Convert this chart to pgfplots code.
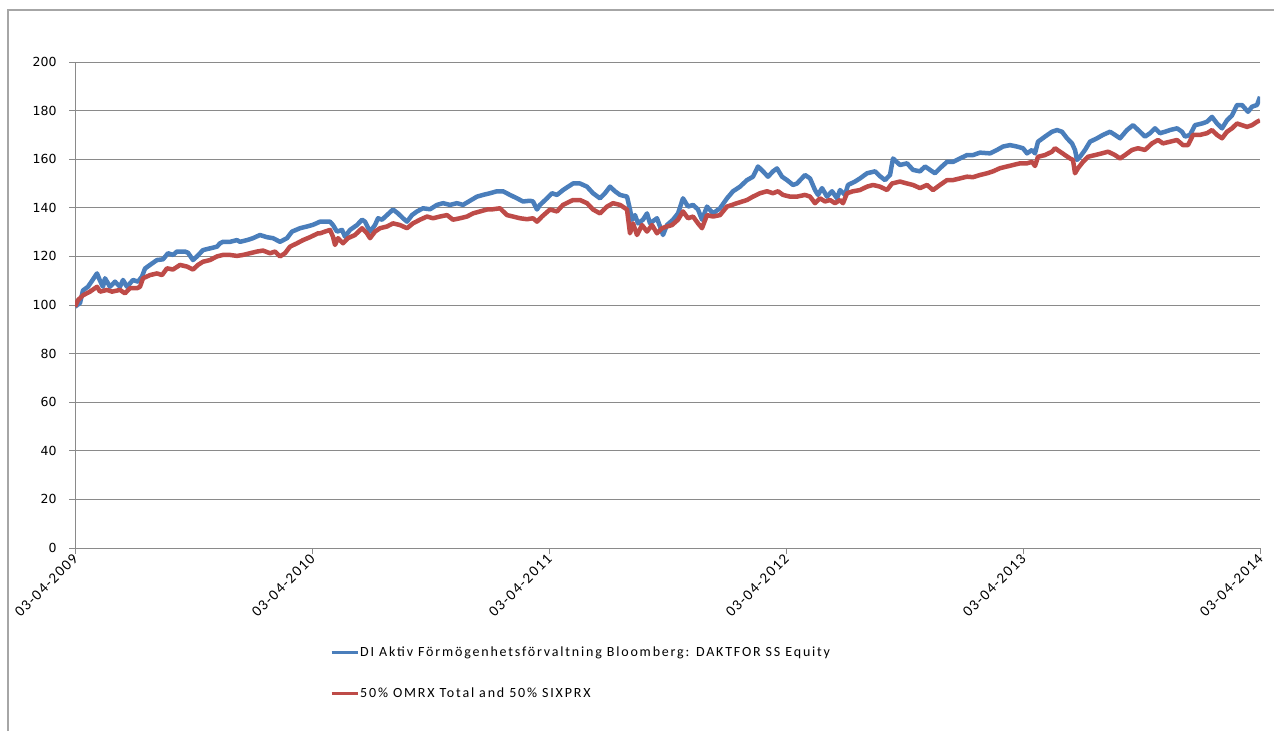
\documentclass[border=0pt]{standalone}
\usepackage{fontspec}
\setmainfont{Carlito}
\newfontfamily\tickfont{DejaVu Sans}
\newfontfamily\datefont[LetterSpace=9]{Carlito}
\newfontfamily\legfont[LetterSpace=13]{Carlito}
\usepackage{pgfplots}
\pgfplotsset{compat=1.18}
\definecolor{serblue}{HTML}{4A7EBB}
\definecolor{serred}{HTML}{BE4B48}
\definecolor{gridgray}{HTML}{8A8A8A}
\definecolor{framegray}{HTML}{A6A6A6}
\begin{document}
\begin{tikzpicture}[x=1pt,y=1pt]
\path[use as bounding box] (0pt,0pt) rectangle (1274pt,731pt);
\draw[framegray, line width=1.2pt] (8pt,0pt) -- (8pt,721pt) -- (1274pt,721pt);
\begin{axis}[
  at={(75pt,183pt)}, anchor=origin,
  scale only axis, width=1185pt, height=486pt,
  xmin=0, xmax=1185, ymin=0, ymax=200,
  axis lines=left, axis line style={-, gridgray, line width=0.9pt},
  ytick={0,20,...,200},
  xtick={0,237,474,711,948,1185},
  xticklabels={03-04-2009,03-04-2010,03-04-2011,03-04-2012,03-04-2013,03-04-2014},
  ymajorgrids, grid style={gridgray, line width=0.9pt},
  tick align=outside, major tick length=6pt,
  tick style={gridgray, line width=0.9pt},
  /pgf/number format/assume math mode=true,
  yticklabel style={font=\tickfont\fontsize{12.5}{14}\selectfont, xshift=-9pt},
  xticklabel style={font=\datefont\fontsize{15}{17}\selectfont, rotate=45, anchor=east, xshift=2pt, yshift=-2pt},
  legend style={at={(axis description cs:0.2152,-0.257)}, anchor=west, draw=none, fill=none,
    inner sep=0pt, row sep=27pt, font=\legfont\fontsize{14}{16}\selectfont,
    nodes={inner sep=1pt}},
  legend cell align=left,
  legend image code/.code={\draw[#1, line width=3pt] (0pt,0pt) -- (26pt,0pt);},
  every axis plot/.append style={line width=4.5pt, line join=round},
]
\addplot[serblue] coordinates {
(0,99.3)(5,100.8)(8,106)(13,107.5)(22,113)(25,110)(28,107.5)(30,111)(35,107.5)(40,109.6)
(45,107.5)(48,110.3)(52,107.5)(58,110.3)(63,109.6)(67,111.7)(70,115)(75,116.5)(82,118.5)(88,118.8)
(93,121.3)(98,120.6)(102,122)(110,122)(113,121.5)(118,118.5)(122,120)(128,122.6)(135,123.3)(142,124)
(145,125.4)(148,126)(155,126)(162,126.7)(165,126)(172,126.7)(178,127.5)(185,128.8)(192,127.9)(198,127.5)
(205,126)(212,127.5)(217,130.2)(225,131.6)(232,132.3)(238,133)(243,133.9)(245,134.3)(255,134.3)(258,132.9)
(262,130.2)(267,130.9)(270,128.1)(275,130.9)(282,132.9)(287,135.1)(290,134.3)(295,130.2)(300,132.9)(303,135.7)
(307,135.1)(312,137)(318,139.3)(323,137.7)(328,135.7)(332,134.3)(337,137)(342,138.5)(348,139.8)(355,139.4)
(362,141.2)(368,141.9)(375,141.2)(382,141.9)(388,141.2)(395,142.9)(402,144.6)(408,145.3)(415,146)(422,146.8)
(428,146.8)(435,145.3)(442,143.9)(448,142.6)(455,142.9)(458,142.6)(462,139.3)(465,141.2)(472,143.9)(477,146)
(482,145.3)(488,147.3)(498,150)(505,150)(512,148.7)(518,146)(525,143.9)(530,146)(535,148.7)(540,146.8)
(545,145.3)(552,144.6)(555,139.3)(557,135.1)(560,137)(563,133.6)(568,135.1)(572,137.7)(575,133.6)(582,135.7)
(585,132.3)(588,128.8)(592,132.9)(598,135.1)(603,137.7)(608,143.9)(613,140.5)(618,141.2)(623,139.3)(627,135.1)
(632,140.5)(638,137.7)(645,139.8)(652,143.9)(658,146.8)(665,148.7)(672,151.4)(678,152.8)(683,157)(688,155)
(693,152.8)(698,155)(702,156.2)(707,152.8)(712,151.4)(718,149.4)(722,150)(730,153.5)(735,152.1)(740,147.3)
(743,145.3)(747,148.1)(752,144.6)(757,146.8)(762,143.9)(765,147.3)(770,145.3)(773,149.4)(780,150.8)(785,152.1)
(792,154.2)(800,155)(805,153)(810,151.4)(815,153.5)(818,160.3)(825,157.6)(832,158.3)(838,155.6)(845,155)
(850,157)(855,155.6)(860,154.2)(865,156.3)(872,158.9)(878,158.9)(885,160.3)(892,161.7)(898,161.7)(905,162.7)
(915,162.4)(922,163.8)(928,165.2)(935,165.8)(942,165.2)(948,164.5)(952,162.4)(957,163.8)(960,162.4)(963,167.2)
(970,169.3)(977,171.3)(982,172)(987,171.3)(992,168.6)(997,166.5)(1000,163.8)(1002,159.7)(1005,161)(1010,163.8)
(1015,167.2)(1022,168.6)(1028,170)(1035,171.3)(1040,170)(1045,168.6)(1052,172)(1058,174)(1065,171.3)(1070,169.3)
(1075,170.7)(1080,172.7)(1085,170.7)(1090,171.3)(1095,172)(1102,172.7)(1107,171.3)(1110,169.3)(1115,170)(1120,174)
(1127,174.7)(1132,175.4)(1137,177.4)(1142,174.7)(1147,172.7)(1152,176)(1157,178)(1162,182.3)(1167,182.3)(1170,180.9)
(1173,179.5)(1177,181.6)(1182,182.3)(1185,185.7)
};
\addlegendentry{DI Aktiv Förmögenhetsförvaltning Bloomberg: DAKTFOR SS Equity}
\addplot[serred] coordinates {
(0,99.3)(3,102)(8,104)(15,105.5)(22,107.5)(25,105.5)(32,106.2)(37,105.5)(45,106.2)(50,104.8)
(55,106.9)(62,106.9)(65,107.5)(68,111)(75,112.3)(82,113)(87,112.3)(92,115.1)(98,114.6)(105,116.5)
(112,115.8)(118,114.6)(123,116.5)(128,117.8)(135,118.5)(142,120)(148,120.6)(155,120.6)(162,120.2)(168,120.6)
(175,121.3)(182,122)(188,122.4)(195,121.3)(200,122)(205,120)(210,121.3)(215,124)(222,125.4)(228,126.7)
(235,127.9)(243,129.5)(245,129.5)(255,130.9)(258,128.1)(260,124.7)(263,127.5)(268,125.4)(273,127.5)(280,128.8)
(287,131.6)(292,129.5)(295,127.5)(300,130.2)(305,131.6)(312,132.3)(318,133.6)(325,132.9)(332,131.6)(338,133.6)
(345,135.1)(352,136.4)(358,135.7)(365,136.4)(372,137)(378,135.1)(385,135.7)(392,136.4)(398,137.7)(405,138.5)
(412,139.3)(418,139.4)(425,139.8)(432,137)(438,136.4)(445,135.7)(452,135.3)(458,135.7)(462,134.3)(467,136.4)
(475,139.3)(482,138.5)(488,141.2)(498,143.2)(505,143.2)(512,141.9)(518,139.3)(525,137.7)(532,140.5)(538,141.9)
(545,141.2)(552,139.3)(555,129.5)(558,133.6)(562,128.8)(567,132.9)(572,130.2)(577,132.9)(582,129.5)(587,131.6)
(592,132.3)(597,132.9)(603,135.1)(608,138.5)(613,135.7)(618,136.4)(623,133.6)(627,131.6)(632,137)(638,136.4)
(645,137)(652,140.5)(662,141.9)(672,143.2)(678,144.6)(685,146)(692,146.8)(698,146)(703,146.8)(708,145.3)
(715,144.6)(722,144.6)(730,145.3)(735,144.6)(740,141.9)(745,143.9)(750,142.6)(755,143.2)(760,141.9)(765,143.2)
(768,141.9)(772,146)(778,146.8)(785,147.3)(792,148.7)(798,149.4)(805,148.7)(812,147.3)(817,150)(825,150.8)
(832,150)(838,149.4)(845,148.1)(852,149.4)(858,147.3)(865,149.4)(872,151.4)(878,151.4)(885,152.1)(892,152.8)
(898,152.6)(905,153.5)(912,154.2)(918,155)(925,156.3)(932,157)(938,157.6)(945,158.3)(952,158.3)(957,158.9)
(960,157.2)(963,161)(970,161.7)(977,163.1)(980,164.5)(985,163.1)(990,161.7)(995,160.3)(998,159.7)(1000,154.2)
(1003,156.3)(1008,158.9)(1013,161)(1020,161.7)(1027,162.4)(1033,163.1)(1040,161.7)(1045,160.3)(1050,161.7)(1057,163.8)
(1063,164.5)(1070,163.8)(1077,166.5)(1083,167.9)(1088,166.5)(1095,167.2)(1102,167.9)(1108,165.8)(1113,165.8)(1118,170)
(1125,170)(1132,170.7)(1137,172)(1142,170)(1147,168.6)(1152,171.3)(1157,172.7)(1162,174.7)(1167,174)(1172,173.3)
(1177,174)(1182,175.4)(1185,176)
};
\addlegendentry{50\% OMRX Total and 50\% SIXPRX}
\end{axis}
\end{tikzpicture}
\end{document}
